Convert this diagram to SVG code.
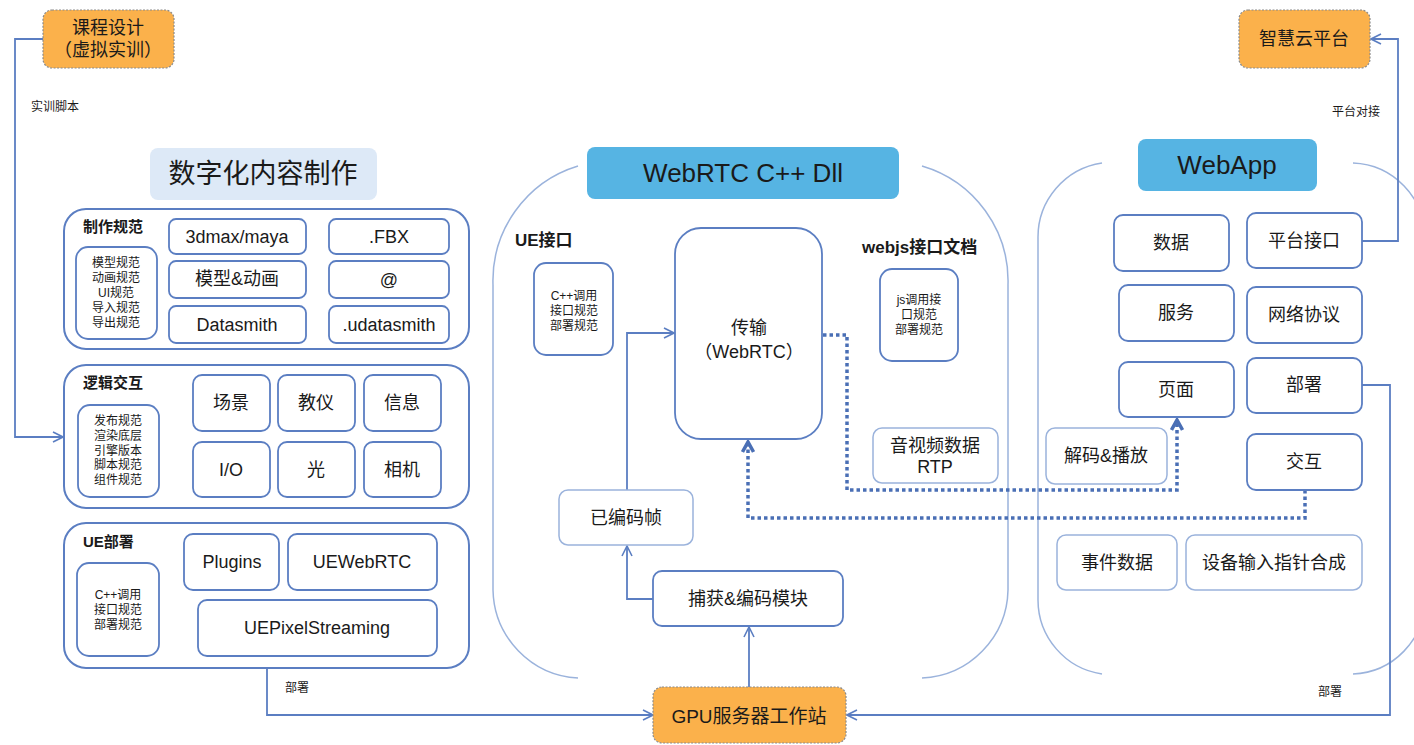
<svg xmlns="http://www.w3.org/2000/svg" width="1414" height="745" viewBox="0 0 1414 745">
<style>
text{font-family:"Liberation Sans","Noto Sans CJK SC",sans-serif;fill:#1a1a1a;text-anchor:middle;dominant-baseline:central}
.t18{font-size:18px}
.t12{font-size:12px}
.lbl{font-size:12px;text-anchor:start}
.bt{font-weight:bold;text-anchor:start}
.panel{fill:#fff;stroke:#5b7ec2;stroke-width:2}
.box{fill:#fff;stroke:#5b7ec2;stroke-width:1.8}
.lbox{fill:#fff;stroke:#9bb3dc;stroke-width:1.5}
.orange{fill:#fbb14b;stroke:#8a8a8a;stroke-width:1.2;stroke-dasharray:2 1.5}
.cont{fill:none;stroke:#9bb3dc;stroke-width:1.5}
.conn{fill:none;stroke:#5b7ec2;stroke-width:1.8}
.lconn{fill:none;stroke:#8eaadb;stroke-width:1.5}
.dot{fill:none;stroke:#4a6fb5;stroke-width:3.5;stroke-dasharray:3.5 3}
</style>
<defs>
<marker id="arr" viewBox="0 0 12 12" refX="11" refY="6" markerWidth="12" markerHeight="12" markerUnits="userSpaceOnUse" orient="auto">
<path d="M1,1 L11,6 L1,11" fill="none" stroke="#5b7ec2" stroke-width="1.6"/>
</marker>
<marker id="larr" viewBox="0 0 12 12" refX="11" refY="6" markerWidth="12" markerHeight="12" markerUnits="userSpaceOnUse" orient="auto">
<path d="M1,1 L11,6 L1,11" fill="none" stroke="#8eaadb" stroke-width="1.5"/>
</marker>
<marker id="darr" viewBox="0 0 14 14" refX="12" refY="7" markerWidth="14" markerHeight="14" markerUnits="userSpaceOnUse" orient="auto">
<path d="M2,1.5 L12,7 L2,12.5" fill="none" stroke="#4a6fb5" stroke-width="3.5"/>
</marker>
</defs>

<!-- containers -->
<g id="webrtc-container">
<path class="cont" d="M578,166 A120,120 0 0 0 493,285 V590 A90,90 0 0 0 578,678"/>
<path class="cont" d="M922,166 A120,120 0 0 1 1008,285 V590 A90,90 0 0 1 922,678"/>
</g>
<g id="webapp-container">
<path class="cont" d="M1102,163 A75,75 0 0 0 1038,238 V600 A75,75 0 0 0 1102,674"/>
<path class="cont" d="M1353,163 A75,75 0 0 1 1425,238 V600 A75,75 0 0 1 1353,674"/>
</g>

<!-- connectors -->
<g id="connectors">
<path class="conn" d="M43,39 H15 V437 H63" marker-end="url(#arr)"/>
<path class="conn" d="M267,668 V715 H653" marker-end="url(#arr)"/>
<path class="conn" d="M1362,385 H1390 V715 H847" marker-end="url(#arr)"/>
<path class="conn" d="M1362,241 H1398 V39 H1371" marker-end="url(#arr)"/>
<path class="lconn" d="M306,236 H328" marker-end="url(#larr)"/>
<path class="lconn" d="M306,279 H328" marker-end="url(#larr)"/>
<path class="lconn" d="M306,324 H328" marker-end="url(#larr)"/>
<path class="conn" d="M653,599 H627 V546" marker-end="url(#arr)"/>
<path class="conn" d="M627,490 V333 H674" marker-end="url(#arr)"/>
<path class="conn" d="M749,687 V627" marker-end="url(#arr)"/>
<path class="dot" d="M823,335 H847 V490 H1177 V420" marker-end="url(#darr)"/>
<path class="dot" d="M1305,490 V518 H748 V442" marker-end="url(#darr)"/>
<text class="lbl" x="31" y="107">实训脚本</text>
<text class="lbl" x="285" y="688">部署</text>
<text class="lbl" x="1318" y="692">部署</text>
<text class="lbl" x="1332" y="112">平台对接</text>
</g>

<!-- top nodes -->
<g id="course">
<rect class="orange" x="43" y="10" width="131" height="58" rx="9"/>
<text class="t18" x="108" y="28">课程设计</text>
<text class="t18" x="108" y="50">（虚拟实训）</text>
</g>
<g id="cloud">
<rect class="orange" x="1239" y="10" width="131" height="58" rx="9"/>
<text class="t18" x="1304" y="39">智慧云平台</text>
</g>
<g id="gpu">
<rect class="orange" x="653" y="687" width="193" height="56" rx="9"/>
<text style="font-size:19px" x="749" y="716">GPU服务器工作站</text>
</g>

<!-- titles -->
<g id="title-digital">
<rect x="150" y="148" width="227" height="52" rx="8" fill="#dde9f7"/>
<text style="font-size:27px" x="263" y="174">数字化内容制作</text>
</g>
<g id="title-webrtc">
<rect x="587" y="147" width="312" height="52" rx="8" fill="#56b4e3"/>
<text style="font-size:26px" x="743" y="173">WebRTC C++ Dll</text>
</g>
<g id="title-webapp">
<rect x="1138" y="139" width="179" height="52" rx="8" fill="#56b4e3"/>
<text style="font-size:26px" x="1227" y="165">WebApp</text>
</g>

<!-- panel 1 -->
<g id="panel-spec">
<rect class="panel" x="64" y="209" width="405" height="140" rx="22"/>
<text class="bt" style="font-size:15px" x="83" y="226">制作规范</text>
<rect class="box" x="76" y="247" width="81" height="92" rx="12"/>
<text class="t12" x="116" y="263">模型规范</text>
<text class="t12" x="116" y="278">动画规范</text>
<text class="t12" x="116" y="293">UI规范</text>
<text class="t12" x="116" y="308">导入规范</text>
<text class="t12" x="116" y="323">导出规范</text>
</g>
<g id="n-3dmax"><rect class="box" x="169" y="219" width="137" height="35" rx="7"/><text class="t18" x="237" y="237">3dmax/maya</text></g>
<g id="n-fbx"><rect class="box" x="329" y="219" width="120" height="35" rx="7"/><text class="t18" x="389" y="237">.FBX</text></g>
<g id="n-model"><rect class="box" x="169" y="261" width="137" height="37" rx="7"/><text class="t18" x="237" y="279">模型&amp;动画</text></g>
<g id="n-at"><rect class="box" x="329" y="261" width="120" height="37" rx="7"/><text class="t18" x="389" y="280">@</text></g>
<g id="n-datasmith"><rect class="box" x="169" y="306" width="137" height="37" rx="7"/><text class="t18" x="237" y="325">Datasmith</text></g>
<g id="n-udatasmith"><rect class="box" x="329" y="306" width="120" height="37" rx="7"/><text class="t18" x="389" y="325">.udatasmith</text></g>

<!-- panel 2 -->
<g id="panel-logic">
<rect class="panel" x="64" y="365" width="405" height="143" rx="22"/>
<text class="bt" style="font-size:15px" x="83" y="382">逻辑交互</text>
<rect class="box" x="78" y="405" width="81" height="92" rx="12"/>
<text class="t12" x="118" y="421">发布规范</text>
<text class="t12" x="118" y="436">渲染底层</text>
<text class="t12" x="118" y="451">引擎版本</text>
<text class="t12" x="118" y="465">脚本规范</text>
<text class="t12" x="118" y="480">组件规范</text>
</g>
<g id="n-scene"><rect class="box" x="193" y="375" width="77" height="56" rx="9"/><text class="t18" x="231" y="403">场景</text></g>
<g id="n-teach"><rect class="box" x="278" y="375" width="77" height="56" rx="9"/><text class="t18" x="316" y="403">教仪</text></g>
<g id="n-info"><rect class="box" x="364" y="375" width="77" height="56" rx="9"/><text class="t18" x="402" y="403">信息</text></g>
<g id="n-io"><rect class="box" x="193" y="442" width="77" height="55" rx="9"/><text class="t18" x="231" y="470">I/O</text></g>
<g id="n-light"><rect class="box" x="278" y="442" width="77" height="55" rx="9"/><text class="t18" x="316" y="470">光</text></g>
<g id="n-camera"><rect class="box" x="364" y="442" width="77" height="55" rx="9"/><text class="t18" x="402" y="470">相机</text></g>

<!-- panel 3 -->
<g id="panel-ue">
<rect class="panel" x="64" y="523" width="405" height="145" rx="22"/>
<text class="bt" style="font-size:15px" x="83" y="541">UE部署</text>
<rect class="box" x="77" y="563" width="82" height="93" rx="12"/>
<text class="t12" x="118" y="595">C++调用</text>
<text class="t12" x="118" y="610">接口规范</text>
<text class="t12" x="118" y="625">部署规范</text>
</g>
<g id="n-plugins"><rect class="box" x="184" y="534" width="95" height="56" rx="9"/><text class="t18" x="232" y="562">Plugins</text></g>
<g id="n-uewebrtc"><rect class="box" x="288" y="534" width="149" height="56" rx="9"/><text class="t18" x="362" y="562">UEWebRTC</text></g>
<g id="n-uepixel"><rect class="box" x="198" y="600" width="239" height="56" rx="9"/><text class="t18" x="317" y="628">UEPixelStreaming</text></g>

<!-- WebRTC section -->
<g id="ue-interface">
<text class="bt" style="font-size:17px" x="515" y="240">UE接口</text>
<rect class="box" x="534" y="263" width="79" height="92" rx="12"/>
<text class="t12" x="574" y="296">C++调用</text>
<text class="t12" x="574" y="311">接口规范</text>
<text class="t12" x="574" y="326">部署规范</text>
</g>
<g id="n-transport"><rect class="box" x="675" y="228" width="147" height="211" rx="26"/><text class="t18" x="749" y="328">传输</text><text class="t18" x="749" y="352">（WebRTC）</text></g>
<g id="webjs-doc">
<text class="bt" style="font-size:17px" x="862" y="247">webjs接口文档</text>
<rect class="box" x="880" y="269" width="78" height="92" rx="12"/>
<text class="t12" x="919" y="300">js调用接</text>
<text class="t12" x="919" y="315">口规范</text>
<text class="t12" x="919" y="330">部署规范</text>
</g>
<g id="n-rtp"><rect class="lbox" x="873" y="428" width="125" height="55" rx="9"/><text class="t18" x="935" y="446">音视频数据</text><text class="t18" x="935" y="467">RTP</text></g>
<g id="n-encoded"><rect class="lbox" x="559" y="490" width="134" height="55" rx="9"/><text class="t18" x="626" y="518">已编码帧</text></g>
<g id="n-capture"><rect class="box" x="653" y="571" width="190" height="55" rx="9"/><text class="t18" x="748" y="599">捕获&amp;编码模块</text></g>

<!-- WebApp section -->
<g id="n-data"><rect class="box" x="1114" y="215" width="115" height="56" rx="9"/><text class="t18" x="1171" y="243">数据</text></g>
<g id="n-platform"><rect class="box" x="1247" y="213" width="115" height="55" rx="9"/><text class="t18" x="1304" y="241">平台接口</text></g>
<g id="n-service"><rect class="box" x="1119" y="285" width="115" height="56" rx="9"/><text class="t18" x="1176" y="313">服务</text></g>
<g id="n-network"><rect class="box" x="1247" y="287" width="115" height="56" rx="9"/><text class="t18" x="1304" y="315">网络协议</text></g>
<g id="n-page"><rect class="box" x="1119" y="362" width="115" height="55" rx="9"/><text class="t18" x="1176" y="390">页面</text></g>
<g id="n-deploy"><rect class="box" x="1247" y="358" width="115" height="55" rx="9"/><text class="t18" x="1304" y="385">部署</text></g>
<g id="n-decode"><rect class="lbox" x="1046" y="428" width="121" height="56" rx="9"/><text class="t18" x="1106" y="456">解码&amp;播放</text></g>
<g id="n-interact"><rect class="box" x="1247" y="434" width="115" height="56" rx="9"/><text class="t18" x="1304" y="462">交互</text></g>
<g id="n-event"><rect class="lbox" x="1057" y="535" width="120" height="55" rx="9"/><text class="t18" x="1117" y="563">事件数据</text></g>
<g id="n-device"><rect class="lbox" x="1186" y="535" width="176" height="55" rx="9"/><text class="t18" x="1274" y="563">设备输入指针合成</text></g>
</svg>
